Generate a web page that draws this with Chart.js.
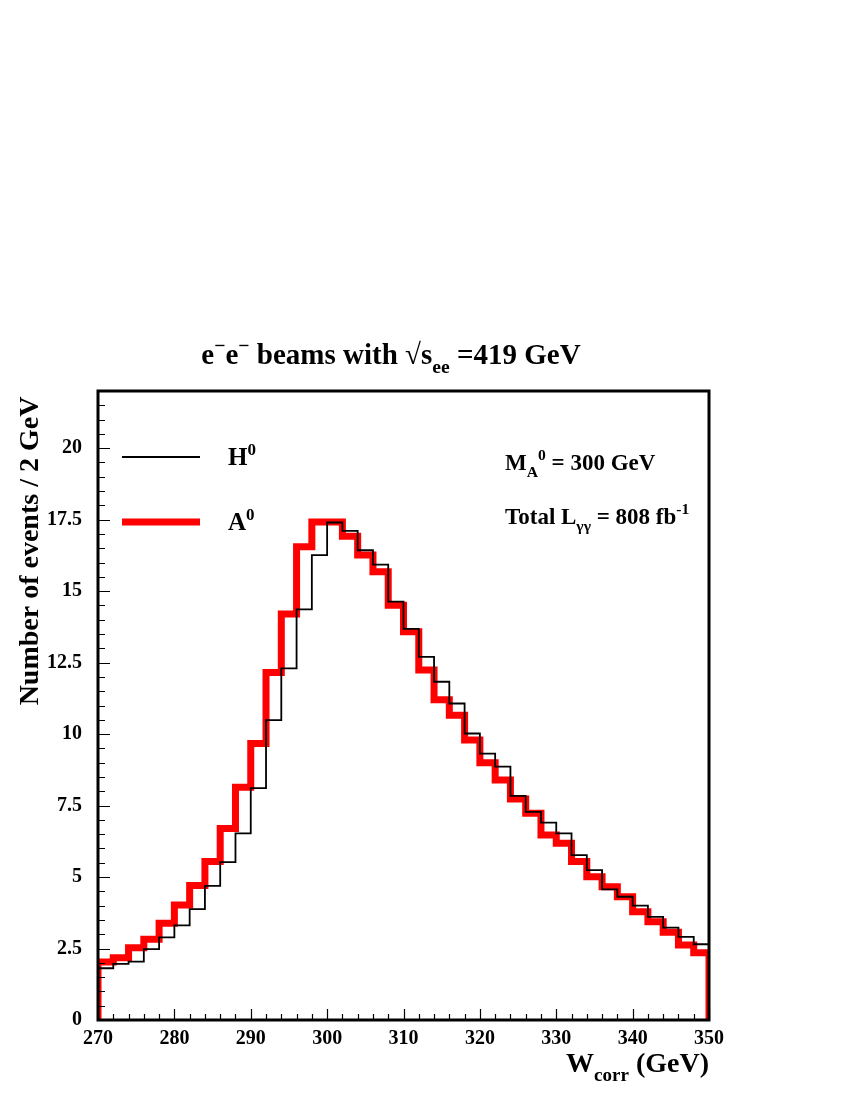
<!DOCTYPE html>
<html>
<head>
<meta charset="utf-8">
<script src="https://cdn.jsdelivr.net/npm/chart.js@4.4.1/dist/chart.umd.min.js"></script>
<style>
  body { margin: 0; background: #fff; }
  canvas { display: block; }
</style>
</head>
<body>
<canvas id="histo" width="850" height="1100"></canvas>
<script>
// bin lower edges (2 GeV bins), last upper edge
var binLow = [270, 272, 274, 276, 278, 280, 282, 284, 286, 288,
              290, 292, 294, 296, 298, 300, 302, 304, 306, 308,
              310, 312, 314, 316, 318, 320, 322, 324, 326, 328,
              330, 332, 334, 336, 338, 340, 342, 344, 346, 348];
var binHigh = 350;

// H0 (thin black)
var h0Counts = [1.81, 1.96, 2.04, 2.48, 2.89, 3.31, 3.88, 4.69, 5.52, 6.53,
                8.11, 10.49, 12.30, 14.36, 16.26, 17.40, 17.11, 16.43, 15.93, 14.63,
                13.68, 12.70, 11.83, 11.07, 10.02, 9.32, 8.86, 7.84, 7.28, 6.90,
                6.53, 5.77, 5.24, 4.57, 4.31, 4.00, 3.61, 3.23, 2.91, 2.65];
// A0 (thick red)
var a0Counts = [2.03, 2.18, 2.53, 2.82, 3.38, 4.02, 4.70, 5.54, 6.70, 8.14,
                9.67, 12.15, 14.20, 16.55, 17.42, 17.42, 16.92, 16.26, 15.68, 14.51,
                13.58, 12.24, 11.20, 10.66, 9.79, 9.00, 8.39, 7.73, 7.23, 6.47,
                6.18, 5.54, 5.01, 4.66, 4.31, 3.79, 3.44, 3.07, 2.62, 2.35];

var xTicks = [270, 280, 290, 300, 310, 320, 330, 340, 350];
var yTicks = [0, 2.5, 5, 7.5, 10, 12.5, 15, 17.5, 20];

var FONT = "'Liberation Serif', 'Times New Roman', serif";

// turn bin contents into step points
function histPoints(counts) {
    var pts = [{x: binLow[0], y: 0}];
    for (var i = 0; i < counts.length; i++) {
        pts.push({x: binLow[i], y: counts[i]});
    }
    pts.push({x: binHigh, y: counts[counts.length - 1]});
    pts.push({x: binHigh, y: 0});
    return pts;
}

// text with sub/superscripts, parts = [{t, sup, sub}]
function richText(ctx, parts, x, y, size, align) {
    var total = 0;
    parts.forEach(function (p) {
        var s = (p.sup || p.sub) ? size * 0.68 : size;
        ctx.font = "bold " + s + "px " + FONT;
        p.w = ctx.measureText(p.t).width;
        total += p.w;
    });
    var cx = x;
    if (align === "center") cx = x - total / 2;
    if (align === "right") cx = x - total;
    ctx.textAlign = "left";
    ctx.textBaseline = "alphabetic";
    parts.forEach(function (p) {
        var s = (p.sup || p.sub) ? size * 0.68 : size;
        var dy = p.sup ? -size * 0.42 : (p.sub ? size * 0.32 : 0);
        ctx.font = "bold " + s + "px " + FONT;
        ctx.fillText(p.t, cx, y + dy);
        cx += p.w;
    });
}

var framePlugin = {
    id: "frame",
    afterDatasetsDraw: function (chart) {
        var ctx = chart.ctx, a = chart.chartArea;
        var xs = chart.scales.x, ys = chart.scales.y;
        ctx.save();
        ctx.strokeStyle = "#000";
        ctx.lineWidth = 1.2;
        ctx.beginPath();
        // y ticks every 0.5, major at 2.5
        for (var v = 0; v <= 22.001; v += 0.5) {
            var py = Math.round(ys.getPixelForValue(v)) + 0.5;
            var major = Math.abs(v / 2.5 - Math.round(v / 2.5)) < 1e-6;
            ctx.moveTo(a.left, py);
            ctx.lineTo(a.left + (major ? 12 : 7), py);
        }
        // x ticks every 2, major at 10
        for (var w = 270; w <= 350; w += 2) {
            var px = Math.round(xs.getPixelForValue(w)) + 0.5;
            var maj = (w % 10) === 0;
            ctx.moveTo(px, a.bottom);
            ctx.lineTo(px, a.bottom - (maj ? 11 : 6));
        }
        ctx.stroke();
        ctx.lineWidth = 3;
        ctx.strokeRect(a.left, a.top, a.right - a.left, a.bottom - a.top);
        ctx.restore();
    },
    afterDraw: function (chart) {
        var ctx = chart.ctx, a = chart.chartArea;
        ctx.save();
        ctx.fillStyle = "#000";
        // title
        richText(ctx, [{t: "e"}, {t: "\u2212", sup: true}, {t: "e"}, {t: "\u2212", sup: true},
                       {t: " beams with \u221As"}, {t: "ee", sub: true}, {t: " =419 GeV"}],
                 391, 364, 29, "center");
        // axis titles
        richText(ctx, [{t: "W"}, {t: "corr", sub: true}, {t: " (GeV)"}], a.right, 1072, 28, "right");
        ctx.save();
        ctx.translate(38, 551);
        ctx.rotate(-Math.PI / 2);
        richText(ctx, [{t: "Number of events / 2 GeV"}], 0, 0, 28, "center");
        ctx.restore();
        // legend
        var ds = chart.data.datasets;
        var rows = [457, 522];
        for (var i = 0; i < ds.length; i++) {
            ctx.strokeStyle = ds[i].borderColor;
            ctx.lineWidth = ds[i].borderWidth;
            ctx.beginPath();
            ctx.moveTo(122, rows[i]);
            ctx.lineTo(200, rows[i]);
            ctx.stroke();
            richText(ctx, [{t: ds[i].label.charAt(0)}, {t: ds[i].label.slice(1), sup: true}],
                     228, rows[i] + 8, 25, "left");
        }
        // annotations
        richText(ctx, [{t: "M"}, {t: "A", sub: true}, {t: "0", sup: true}, {t: " = 300 GeV"}],
                 505, 470, 23, "left");
        richText(ctx, [{t: "Total L"}, {t: "\u03B3\u03B3", sub: true}, {t: " = 808 fb"}, {t: "-1", sup: true}],
                 505, 524, 23, "left");
        ctx.restore();
    }
};

new Chart(document.getElementById("histo"), {
    type: "line",
    data: {
        datasets: [{
            label: "H0",
            data: histPoints(h0Counts),
            borderColor: "#000000",
            borderWidth: 1.8,
            stepped: "before",
            pointRadius: 0,
            fill: false
        }, {
            label: "A0",
            data: histPoints(a0Counts),
            borderColor: "#ff0000",
            borderWidth: 7,
            stepped: "before",
            pointRadius: 0,
            fill: false
        }]
    },
    options: {
        responsive: false,
        animation: false,
        layout: { padding: { top: 391, right: 141, left: 0, bottom: 0 } },
        plugins: { legend: { display: false }, title: { display: false }, tooltip: { enabled: false } },
        scales: {
            x: {
                type: "linear",
                min: 270,
                max: 350,
                grid: { display: false, drawTicks: false },
                border: { display: false },
                afterBuildTicks: function (s) { s.ticks = xTicks.map(function (v) { return {value: v}; }); },
                afterFit: function (s) { s.height = 80; },
                ticks: {
                    padding: 7,
                    maxRotation: 0,
                    color: "#000",
                    font: { family: FONT, size: 20, weight: "bold" }
                }
            },
            y: {
                min: 0,
                max: 22,
                grid: { display: false, drawTicks: false },
                border: { display: false },
                afterBuildTicks: function (s) { s.ticks = yTicks.map(function (v) { return {value: v}; }); },
                afterFit: function (s) { s.width = 98; },
                ticks: {
                    padding: 16,
                    color: "#000",
                    font: { family: FONT, size: 20, weight: "bold" }
                }
            }
        }
    },
    plugins: [framePlugin]
});
</script>
</body>
</html>
